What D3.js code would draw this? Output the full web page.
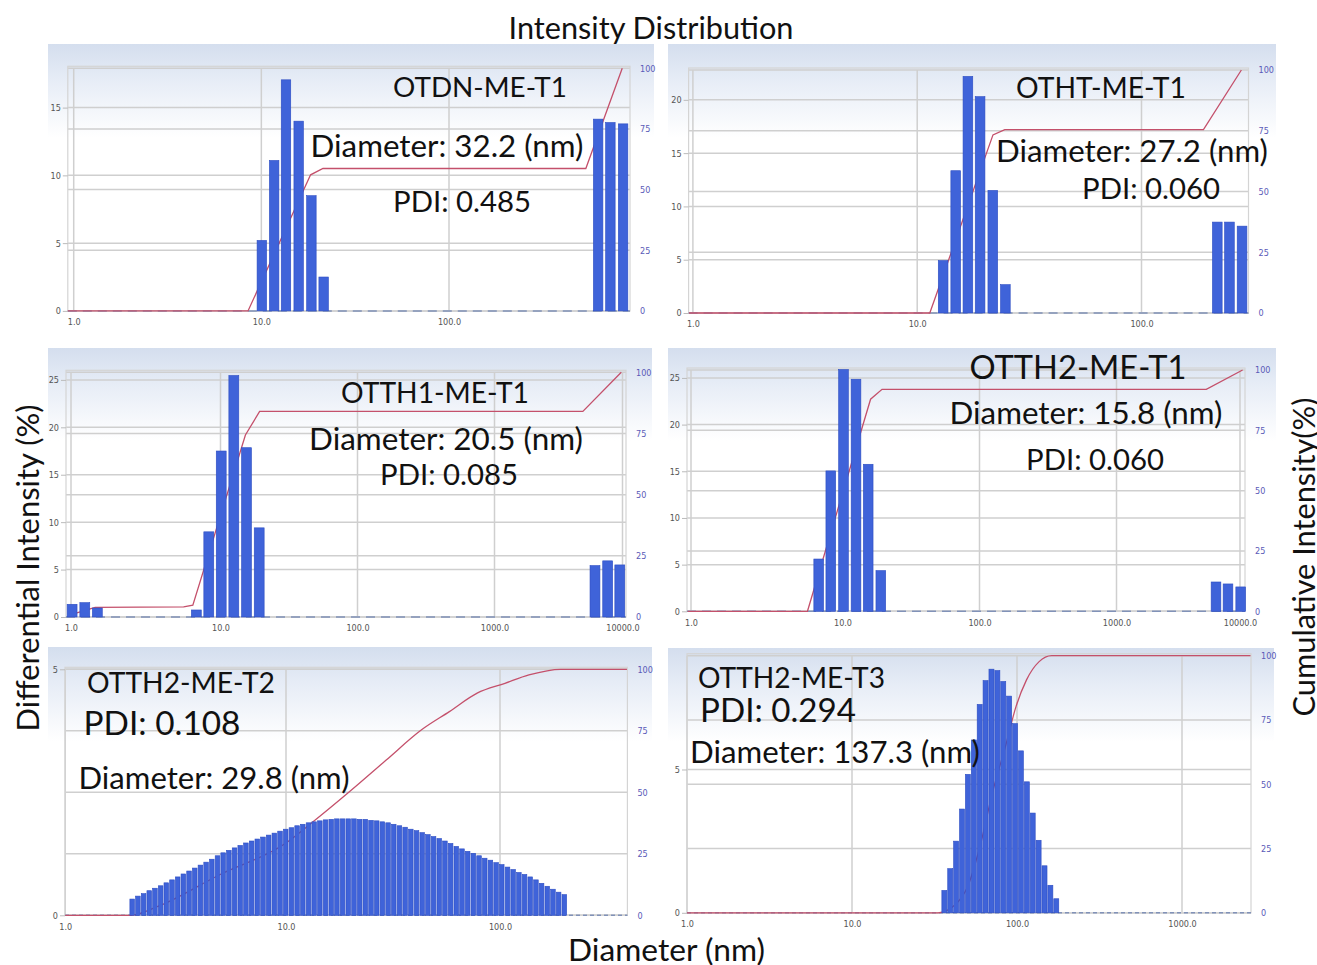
<!DOCTYPE html>
<html>
<head>
<meta charset="utf-8">
<script src="https://cdn.jsdelivr.net/npm/d3@7"></script>
<style>
  body { margin: 0; background: #fff; }
  .note, .title { font-family: Lato, 'Open Sans', sans-serif; fill: #111; }
  .tick text { font-family: 'DejaVu Sans Condensed', 'DejaVu Sans', sans-serif; font-size: 9px; }
</style>
</head>
<body>
<svg id="chart" width="1317" height="965"></svg>
<script>
// Cumulative axis ticks shared by all panels
const cumTicks = [0, 25, 50, 75, 100];

// OTDN-ME-T1
const p1Diam = [10.06, 11.70, 13.53, 15.81, 18.48, 21.48, 623.4, 724.4, 846.7];
const p1Diff = [5.2, 11.1, 17.05, 14.0, 8.5, 2.5, 14.15, 13.9, 13.8];
const p1Cum = [[0.93, 0], [8.49, 0], [18.3, 56.1], [21.3, 58.7], [536, 58.7], [838, 100]];
const p1YMax = 17.9;
const p1YTicks = [0, 5, 10, 15];
const p1XTicks = [1, 10, 100];
const p1XLabels = ['1.0', '10.0', '100.0'];

// OTHT-ME-T1
const p2Diam = [13.05, 14.85, 16.83, 19.07, 21.73, 24.72, 217.7, 246.6, 280.7];
const p2Diff = [4.92, 13.35, 22.2, 20.3, 11.5, 2.66, 8.53, 8.53, 8.15];
const p2Cum = [[0.96, 0], [11.38, 0], [21.77, 73.3], [24.57, 75.5], [188.9, 75.5], [278.8, 100]];
const p2YMax = 22.8;
const p2YTicks = [0, 5, 10, 15, 20];
const p2XTicks = [1, 10, 100];
const p2XLabels = ['1.0', '10.0', '100.0'];

// OTTH1-ME-T1
const p3Diam = [1.017, 1.237, 1.50, 6.89, 8.35, 10.12, 12.51, 15.48, 19.16, 6095, 7661, 9526];
const p3Diff = [1.34, 1.51, 0.95, 0.74, 8.98, 17.5, 25.46, 17.85, 9.4, 5.42, 5.92, 5.49];
const p3Cum = [[1.0, 1.0], [1.45, 3.9], [5.67, 4.1], [6.53, 4.8], [15.2, 74.4], [19.3, 84], [4900, 84], [9786, 100]];
const p3YMax = 25.8;
const p3YTicks = [0, 5, 10, 15, 20, 25];
const p3XTicks = [1, 10, 100, 1000, 10000];
const p3XLabels = ['1.0', '10.0', '100.0', '1000.0', '10000.0'];

// OTTH2-ME-T1
const p4Diam = [6.965, 8.37, 10.17, 12.55, 15.40, 19.04, 6393, 7994, 10131];
const p4Diff = [5.6, 15.04, 25.9, 24.86, 15.75, 4.36, 3.14, 2.93, 2.61];
const p4Cum = [[0.95, 0], [5.87, 0], [16.03, 87.9], [19.43, 92], [5335, 92], [10500, 100]];
const p4YMax = 25.85;
const p4YTicks = [0, 5, 10, 15, 20, 25];
const p4XTicks = [1, 10, 100, 1000, 10000];
const p4XLabels = ['1.0', '10.0', '100.0', '1000.0', '10000.0'];

// OTTH2-ME-T2
const p5Diam = [
  1.911, 2.032, 2.160, 2.296, 2.441, 2.595, 2.758, 2.933, 3.118, 3.314,
  3.524, 3.746, 3.982, 4.234, 4.501, 4.785, 5.087, 5.408, 5.749, 6.111,
  6.497, 6.907, 7.342, 7.806, 8.298, 8.822, 9.378, 9.970, 10.60, 11.27,
  11.98, 12.74, 13.54, 14.39, 15.30, 16.27, 17.29, 18.38, 19.54, 20.78,
  22.09, 23.48, 24.96, 26.54, 28.21, 29.99, 31.88, 33.89, 36.03, 38.30,
  40.72, 43.29, 46.02, 48.92, 52.01, 55.29, 58.77, 62.48, 66.42, 70.61,
  75.07, 79.80, 84.84, 90.19, 95.89, 101.9, 108.4, 115.2, 122.5, 130.2,
  138.4, 147.2, 156.4, 166.3, 176.8, 187.9, 199.8];
const p5Diff = [
  0.33, 0.39, 0.44, 0.50, 0.55, 0.60, 0.66, 0.72, 0.78, 0.84,
  0.90, 0.96, 1.02, 1.08, 1.14, 1.21, 1.27, 1.32, 1.37, 1.42,
  1.47, 1.51, 1.55, 1.59, 1.63, 1.67, 1.71, 1.75, 1.78, 1.82,
  1.85, 1.88, 1.90, 1.92, 1.94, 1.95, 1.96, 1.96, 1.96, 1.96,
  1.95, 1.95, 1.93, 1.92, 1.90, 1.88, 1.85, 1.82, 1.79, 1.75,
  1.72, 1.68, 1.64, 1.60, 1.56, 1.51, 1.46, 1.40, 1.35, 1.30,
  1.26, 1.21, 1.16, 1.12, 1.07, 1.03, 0.98, 0.93, 0.87, 0.83,
  0.78, 0.72, 0.65, 0.59, 0.53, 0.47, 0.42];
const p5Cum = [[0.93, 0], [1.88, 0], [2.5, 3.5], [4.9, 16.5], [10, 29.4], [13.2, 37.6], [19.9, 50.4],
  [29.3, 63], [43, 75.4], [58, 82.8], [78.2, 90.3], [105.5, 94.3], [136.5, 97.7], [192, 100], [392, 100]];
const p5YMax = 5;
const p5YTicks = [0, 5];
const p5XTicks = [0.93, 10, 100];
const p5XLabels = ['1.0', '10.0', '100.0'];

// OTTH2-ME-T3
const p6Diam = [36.29, 39.39, 42.77, 46.43, 50.41, 54.73, 59.41, 64.50, 70.02, 76.03,
  82.54, 89.61, 97.30, 105.6, 114.7, 124.5, 135.2, 146.8, 159.3, 173.0];
const p6Diff = [0.78, 1.54, 2.5, 3.62, 4.83, 6.03, 7.27, 8.1, 8.5, 8.45,
  8.07, 7.56, 6.6, 5.65, 4.57, 3.48, 2.53, 1.64, 0.96, 0.49];
const p6Cum = [[1, 0], [33.2, 0], [42, 3], [50.1, 10], [59.7, 25.9], [71.3, 47.2], [85.1, 64.7],
  [98.6, 80.2], [114.2, 90.6], [136.2, 97.7], [162.3, 100], [2600, 100]];
const p6YMax = 8.97;
const p6YTicks = [0, 5];
const p6XTicks = [1, 10, 100, 1000];
const p6XLabels = ['1.0', '10.0', '100.0', '1000.0'];

const series = [
  { diam: p1Diam, diff: p1Diff, cum: p1Cum, yMax: p1YMax, yTicks: p1YTicks, xTicks: p1XTicks, xLabels: p1XLabels },
  { diam: p2Diam, diff: p2Diff, cum: p2Cum, yMax: p2YMax, yTicks: p2YTicks, xTicks: p2XTicks, xLabels: p2XLabels },
  { diam: p3Diam, diff: p3Diff, cum: p3Cum, yMax: p3YMax, yTicks: p3YTicks, xTicks: p3XTicks, xLabels: p3XLabels },
  { diam: p4Diam, diff: p4Diff, cum: p4Cum, yMax: p4YMax, yTicks: p4YTicks, xTicks: p4XTicks, xLabels: p4XLabels },
  { diam: p5Diam, diff: p5Diff, cum: p5Cum, yMax: p5YMax, yTicks: p5YTicks, xTicks: p5XTicks, xLabels: p5XLabels },
  { diam: p6Diam, diff: p6Diff, cum: p6Cum, yMax: p6YMax, yTicks: p6YTicks, xTicks: p6XTicks, xLabels: p6XLabels },
];

// Panel layout (the screenshot axes are not quite uniform, so x uses anchor points)
const layout = [
  { bg: [48, 44, 654, 336], left: 67.8, right: 630, top: 68.3, bottom: 310.9,
    xAnchor: [1, 100], xPx: [73.7, 449], barW: 9.5, dash: '9,6', smooth: false,
    notes: [['OTDN-ME-T1', 480, 86, 174], ['Diameter: 32.2 (nm)', 447, 145, 273], ['PDI: 0.485', 462, 200, 138]] },
  { bg: [668, 44, 1276, 336], left: 688.6, right: 1248.5, top: 70, bottom: 313,
    xAnchor: [1, 100], xPx: [692.9, 1141.5], barW: 9.7, dash: '9,6', smooth: false,
    notes: [['OTHT-ME-T1', 1101, 87, 170], ['Diameter: 27.2 (nm)', 1132, 150, 272], ['PDI: 0.060', 1151, 187, 138]] },
  { bg: [48, 348, 652, 638], left: 66, right: 626, top: 372.3, bottom: 617,
    xAnchor: [1, 10, 100, 1000, 10000], xPx: [71, 220.5, 357.5, 494.5, 622.5], barW: 9.9, dash: '9,6', smooth: false,
    notes: [['OTTH1-ME-T1', 435, 392, 188], ['Diameter: 20.5 (nm)', 446, 438, 274], ['PDI: 0.085', 449, 473, 138]] },
  { bg: [668, 348, 1276, 638], left: 687, right: 1245, top: 370, bottom: 611.3,
    xAnchor: [1, 10, 100, 1000, 10000], xPx: [691, 842.5, 979.5, 1116.5, 1240], barW: 9.7, dash: '9,6', smooth: false,
    notes: [['OTTH2-ME-T1', 1078, 366.5, 217], ['Diameter: 15.8 (nm)', 1086, 412, 273], ['PDI: 0.060', 1095, 458, 138]] },
  { bg: [48, 647, 652, 942], left: 65, right: 627.4, top: 669.3, bottom: 915.3,
    xAnchor: [10, 100], xPx: [286, 500], barW: 4.6, dash: '4,3', smooth: true,
    notes: [['OTTH2-ME-T2', 181, 682, 188], ['PDI: 0.108', 162, 722, 157], ['Diameter: 29.8 (nm)', 214, 777, 271]] },
  { bg: [668, 648, 1274, 942], left: 687, right: 1251, top: 655.7, bottom: 912.8,
    xAnchor: [1, 1000], xPx: [687, 1182], barW: 5.0, dash: '4,3', smooth: true,
    notes: [['OTTH2-ME-T3', 791.5, 677, 187], ['PDI: 0.294', 778, 709, 156], ['Diameter: 137.3 (nm)', 835, 751, 290]] },
];

const svg = d3.select('#chart');

const grad = svg.append('defs').append('linearGradient')
  .attr('id', 'panelBg')
  .attr('x1', 0).attr('y1', 0).attr('x2', 0).attr('y2', 1);
grad.append('stop').attr('offset', 0).attr('stop-color', '#d4deee');
grad.append('stop').attr('offset', 0.12).attr('stop-color', '#e6ecf6');
grad.append('stop').attr('offset', 0.32).attr('stop-color', '#ffffff');

// Shrink or grow a text so it spans the measured width
function fitText(sel, width) {
  const len = sel.node().getComputedTextLength();
  const fs = +sel.attr('font-size');
  sel.attr('font-size', fs * width / len);
}

layout.forEach((L, i) => {
  const s = series[i];
  const g = svg.append('g');

  g.append('rect')
    .attr('x', L.bg[0]).attr('y', L.bg[1])
    .attr('width', L.bg[2] - L.bg[0]).attr('height', L.bg[3] - L.bg[1])
    .attr('fill', 'url(#panelBg)');

  const x = d3.scaleLog().domain(L.xAnchor).range(L.xPx);
  const yL = d3.scaleLinear().domain([0, s.yMax]).range([L.bottom, L.top]);
  const yR = d3.scaleLinear().domain([0, 100]).range([L.bottom, L.top]);

  // grid
  const grid = g.append('g').attr('stroke', '#cfcfcf').attr('stroke-width', 1.5);
  grid.selectAll('.hl').data(s.yTicks).join('line')
    .attr('x1', L.left).attr('x2', L.right)
    .attr('y1', (d) => yL(d)).attr('y2', (d) => yL(d));
  grid.selectAll('.hr').data(cumTicks).join('line')
    .attr('x1', L.left).attr('x2', L.right)
    .attr('y1', (d) => yR(d)).attr('y2', (d) => yR(d));
  grid.selectAll('.vl').data(s.xTicks).join('line')
    .attr('x1', (d) => x(d)).attr('x2', (d) => x(d))
    .attr('y1', L.top).attr('y2', L.bottom);
  g.append('rect')
    .attr('x', L.left).attr('y', L.top - 2)
    .attr('width', L.right - L.left).attr('height', L.bottom - L.top + 2)
    .attr('fill', 'none').attr('stroke', '#d4d4d4').attr('stroke-width', 1.2);

  // axes
  const axL = g.append('g')
    .attr('transform', `translate(${L.left},0)`)
    .call(d3.axisLeft(yL).tickValues(s.yTicks).tickSize(5).tickPadding(2).tickFormat(d3.format('d')));
  axL.select('.domain').remove();
  axL.selectAll('.tick line').attr('stroke', '#bbb');
  axL.selectAll('.tick text').attr('fill', '#555');

  const axR = g.append('g')
    .attr('transform', `translate(${L.right},0)`)
    .call(d3.axisRight(yR).tickValues(cumTicks).tickSize(0).tickPadding(10));
  axR.select('.domain').remove();
  axR.selectAll('.tick text').attr('fill', '#5a5ab8');

  const axB = g.append('g')
    .attr('transform', `translate(0,${L.bottom})`)
    .call(d3.axisBottom(x).tickValues(s.xTicks).tickSize(0).tickPadding(8)
      .tickFormat((d, k) => s.xLabels[k]));
  axB.select('.domain').remove();
  axB.selectAll('.tick text').attr('fill', '#555');

  // zero baseline
  g.append('line')
    .attr('x1', L.left).attr('x2', L.right)
    .attr('y1', yL(0)).attr('y2', yL(0))
    .attr('stroke', '#8192b8').attr('stroke-width', 1.5)
    .attr('stroke-dasharray', L.dash);

  // cumulative line (sits behind the bars)
  const line = d3.line().x((d) => x(d[0])).y((d) => yR(d[1]));
  if (L.smooth) line.curve(d3.curveMonotoneX);
  g.append('path')
    .datum(s.cum)
    .attr('fill', 'none')
    .attr('stroke', '#c4506b')
    .attr('stroke-width', 1.3)
    .attr('d', line);

  // bars
  g.append('g').selectAll('rect')
    .data(s.diam.map((d, k) => ({ d, v: s.diff[k] })))
    .join('rect')
    .attr('x', (d) => x(d.d) - L.barW / 2)
    .attr('width', L.barW)
    .attr('y', (d) => yL(d.v))
    .attr('height', (d) => yL(0) - yL(d.v))
    .attr('fill', '#3f63d9')
    .attr('stroke', '#2c4cc2')
    .attr('stroke-width', 0.6);

  // annotations
  L.notes.forEach(([t, cx, cy, w]) => {
    const txt = g.append('text')
      .attr('class', 'note')
      .attr('x', cx).attr('y', cy)
      .attr('text-anchor', 'middle')
      .attr('dominant-baseline', 'central')
      .attr('font-size', 28)
      .text(t);
    fitText(txt, w);
  });
});

// Figure titles
const titles = [
  ['Intensity Distribution', 651, 27, 285, 0],
  ['Diameter (nm)', 666.5, 949, 197, 0],
  ['Differential Intensity (%)', 27, 568, 327, -90],
  ['Cumulative Intensity(%)', 1303, 557, 319, -90],
];
titles.forEach(([t, cx, cy, w, rot]) => {
  const txt = svg.append('text')
    .attr('class', 'title')
    .attr('transform', `translate(${cx},${cy}) rotate(${rot})`)
    .attr('text-anchor', 'middle')
    .attr('dominant-baseline', 'central')
    .attr('font-size', 26)
    .text(t);
  fitText(txt, w);
});
</script>
</body>
</html>
